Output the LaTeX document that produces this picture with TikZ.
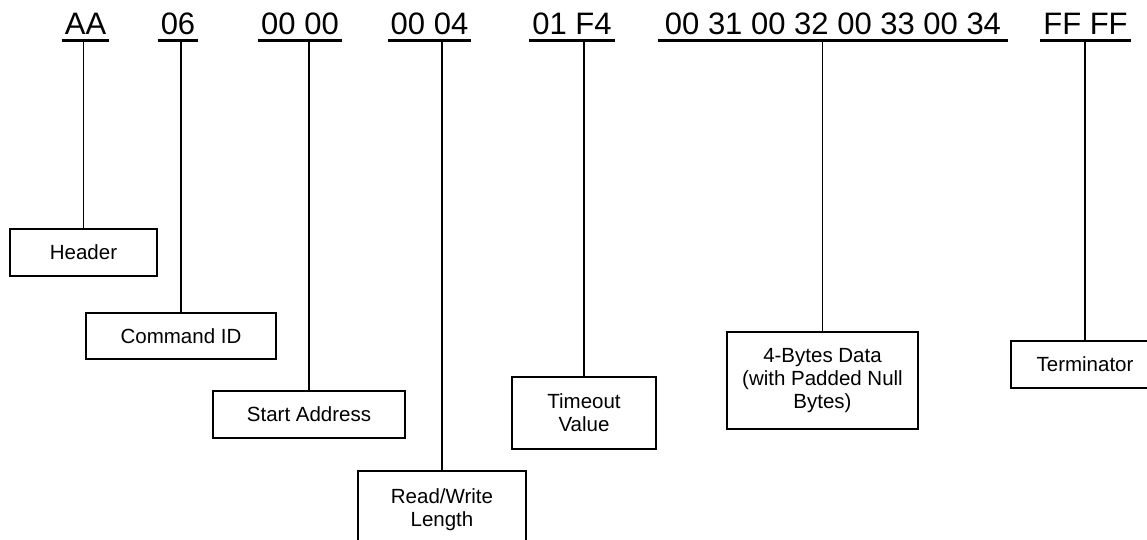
\documentclass[tikz,border=0pt]{standalone}
\usepackage{fontspec}
\setmainfont{Liberation Sans}
\usepackage{tikz}
\newcommand{\fieldfont}{\fontsize{31}{36}\selectfont}
\newcommand{\boxfont}{\fontsize{20.5}{23}\selectfont}
\tikzstyle{field}=[anchor=south,inner xsep=3pt,inner ysep=5pt,font=\fieldfont]
\tikzstyle{fieldline}=[line width=3pt]

\begin{document}
\begin{tikzpicture}[x=1pt,y=-1pt]
    \tikzstyle{namebox}=[draw,line width=1.5pt,align=center,inner sep=2pt,font=\boxfont]
    \tikzstyle{stem}=[line width=1.5pt]

    \useasboundingbox (0,0) rectangle (1147,539);
    \clip (0,0) rectangle (1147,539);

    \node[field] (hdr)  at (85.5,40)  {AA};
    \node[field] (cmd)  at (178,40)   {06};
    \node[field] (addr) at (300,40)   {00 00};
    \node[field] (len)  at (429.5,40) {00 04};
    \node[field] (tmo)  at (572,40)   {01 F4};
    \node[field,inner xsep=7pt] (dat) at (833,40) {00 31 00 32 00 33 00 34};
    \node[field] (term) at (1085.5,40) {FF FF};

    \node[namebox,minimum width=147pt,minimum height=47pt] (hdrbox)  at (83.5,252.5) {Header};
    \node[namebox,minimum width=190pt,minimum height=46pt] (cmdbox)  at (181,336)    {Command ID};
    \node[namebox,minimum width=192pt,minimum height=47pt] (addrbox) at (309,414.5)  {Start Address};
    \node[namebox,minimum width=168pt,minimum height=78pt] (lenbox)  at (442,510)    {Read/Write\\Length};
    \node[namebox,minimum width=144pt,minimum height=72pt] (tmobox)  at (584,413)    {Timeout\\Value};
    \node[namebox,minimum width=191pt,minimum height=97pt] (datbox)  at (822.5,380.5) {4-Bytes Data\\(with Padded Null\\Bytes)};
    \node[namebox,minimum width=148pt,minimum height=47pt] (termbox) at (1085,364.5) {Terminator};

    \draw [fieldline] (hdr.south west)--(hdr.south east);
    \draw [fieldline] (cmd.south west)--(cmd.south east);
    \draw [fieldline] (addr.south west)--(addr.south east);
    \draw [fieldline] (len.south west)--(len.south east);
    \draw [fieldline] (tmo.south west)--(tmo.south east);
    \draw [fieldline] (dat.south west)--(dat.south east);
    \draw [fieldline] (term.south west)--(term.south east);

    \draw [stem] (hdrbox.north)--(hdrbox.north |- hdr.south);
    \draw [stem] (cmdbox.north)--(cmdbox.north |- cmd.south);
    \draw [stem] (addrbox.north)--(addrbox.north |- addr.south);
    \draw [stem] (lenbox.north)--(lenbox.north |- len.south);
    \draw [stem] (tmobox.north)--(tmobox.north |- tmo.south);
    \draw [stem] (datbox.north)--(datbox.north |- dat.south);
    \draw [stem] (termbox.north)--(termbox.north |- term.south);

\end{tikzpicture}
\end{document}
